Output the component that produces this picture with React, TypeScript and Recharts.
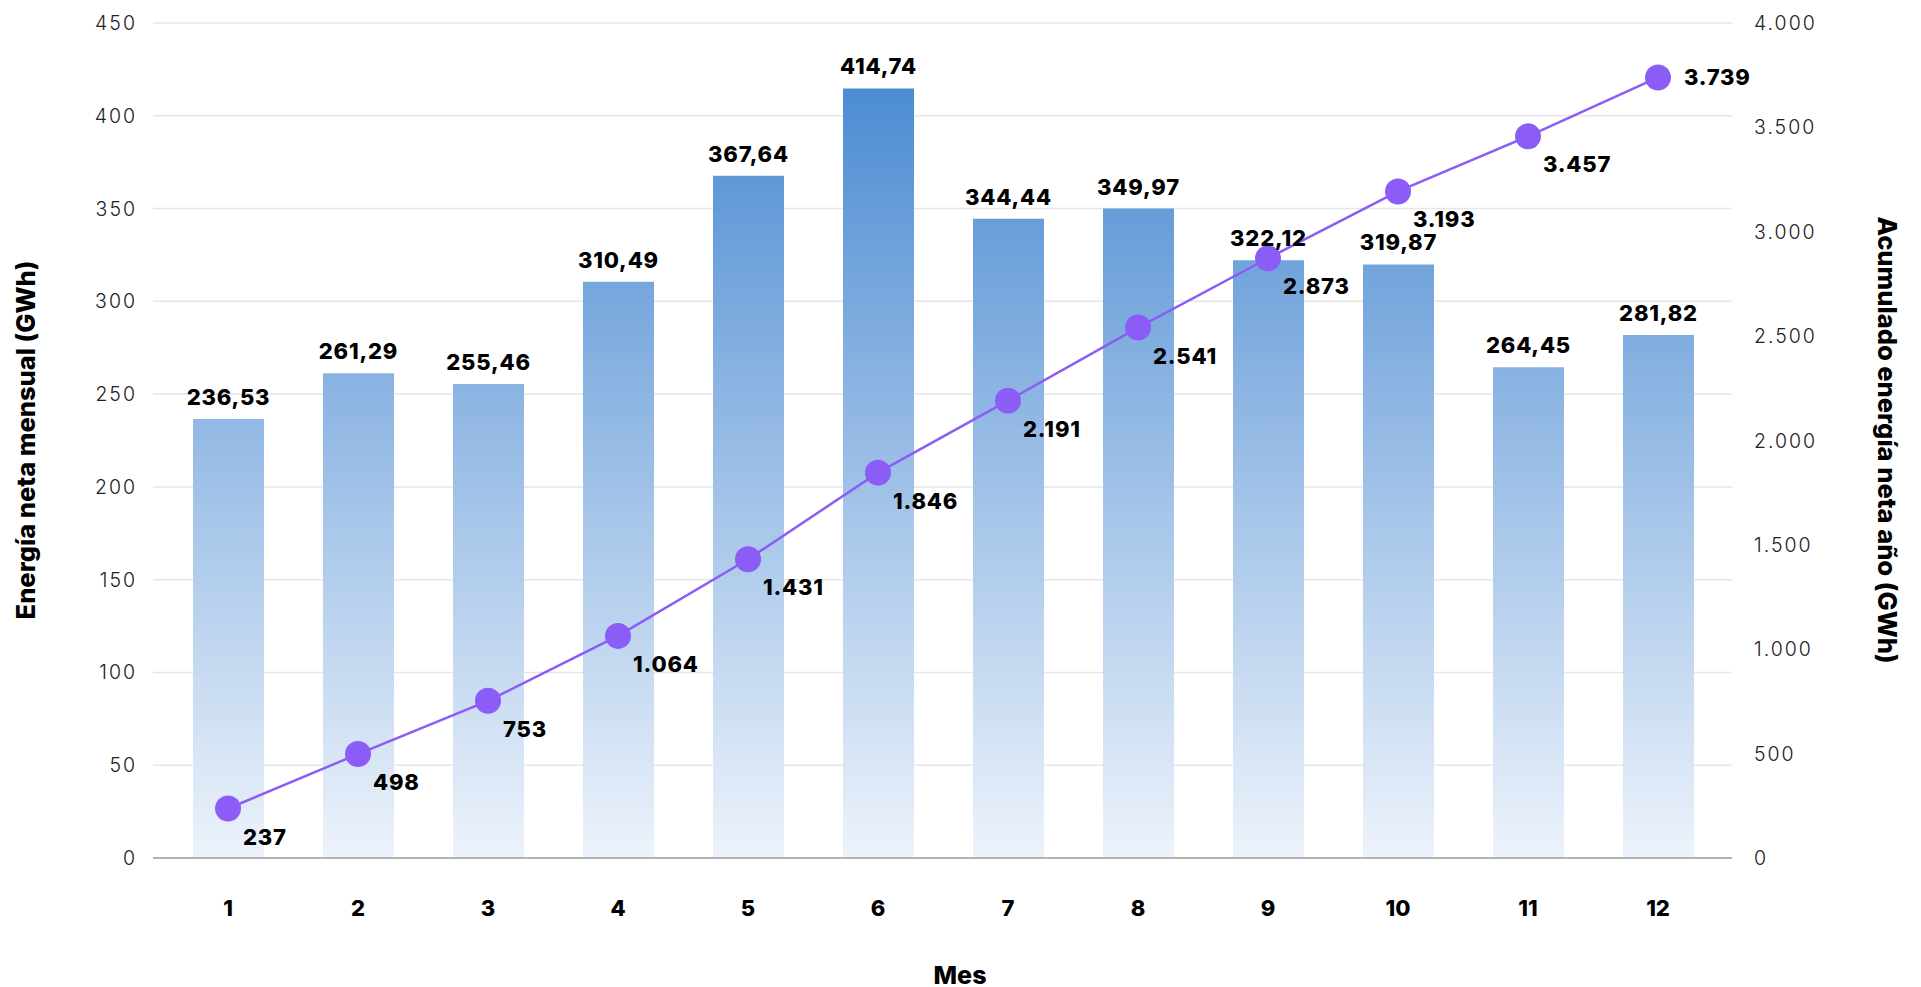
import { Bar, CartesianGrid, ComposedChart, LabelList, Line, XAxis, YAxis } from 'recharts'

const months = ['1', '2', '3', '4', '5', '6', '7', '8', '9', '10', '11', '12']
const monthlyEnergy = [236.53, 261.29, 255.46, 310.49, 367.64, 414.74, 344.44, 349.97, 322.12, 319.87, 264.45, 281.82]
const cumulativeEnergy = [237, 498, 753, 1064, 1431, 1846, 2191, 2541, 2873, 3193, 3457, 3739]
const leftTicks = [0, 50, 100, 150, 200, 250, 300, 350, 400, 450]
const rightTicks = [0, 500, 1000, 1500, 2000, 2500, 3000, 3500, 4000]

const data = months.map((mes, i) => ({
  mes,
  mensual: monthlyEnergy[i],
  acumulado: cumulativeEnergy[i],
}))

const FONT = 'Inter, "Noto Sans", sans-serif'
const PURPLE = '#8b5cf6'

const thousands = (v: number) => String(Math.round(v)).replace(/\B(?=(\d{3})+(?!\d))/g, '.')
const decimal = (v: number) => v.toFixed(2).replace('.', ',')

const tickStyle = { fontFamily: FONT, fontSize: 19.5, fontWeight: 300, fill: '#222', letterSpacing: 2 }

function LeftTick(props: any) {
  const { x, y, payload } = props
  return (
    <text x={x + 2} y={y} textAnchor="end" dominantBaseline="central" style={tickStyle}>
      {payload.value}
    </text>
  )
}

function RightTick(props: any) {
  const { x, y, payload } = props
  return (
    <text x={x} y={y} textAnchor="start" dominantBaseline="central" style={tickStyle}>
      {thousands(payload.value)}
    </text>
  )
}

function LineLabel(props: any) {
  const { x, y, value, index } = props
  const last = index === months.length - 1
  return (
    <text
      x={last ? x + 26 : x + 15}
      y={last ? y : y + 28}
      dominantBaseline="central"
      style={{ fontFamily: FONT, fontSize: 22, fontWeight: 800, fill: '#000', letterSpacing: 0.8 }}
    >
      {thousands(value)}
    </text>
  )
}

export default function App() {
  return (
    <div
      style={{
        position: 'absolute',
        left: 0,
        top: 0,
        width: 1921,
        height: 987,
        background: '#fff',
        fontFamily: FONT,
      }}
    >
      <ComposedChart
        width={1921}
        height={987}
        data={data}
        margin={{ top: 23, right: 0, bottom: 0, left: 0 }}
      >
        <defs>
          <linearGradient id="barFill" gradientUnits="userSpaceOnUse" x1="0" y1="23" x2="0" y2="858">
            <stop offset="0%" stopColor="#3f83cf" />
            <stop offset="100%" stopColor="#edf3fb" />
          </linearGradient>
        </defs>
        <CartesianGrid vertical={false} stroke="#e6e6e6" strokeWidth={1.5} yAxisId="left" />
        <XAxis
          dataKey="mes"
          height={129}
          padding={{ left: 10, right: 9 }}
          stroke="#b3b3b3"
          strokeWidth={2}
          tickLine={false}
          tickSize={0}
          tickMargin={42}
          tick={{ fill: '#000', fontSize: 22, fontWeight: 800, fontFamily: FONT }}
        />
        <YAxis
          yAxisId="left"
          orientation="left"
          width={153}
          domain={[0, 450]}
          ticks={leftTicks}
          axisLine={false}
          tickLine={false}
          tickSize={0}
          tickMargin={18}
          tick={<LeftTick />}
        />
        <YAxis
          yAxisId="right"
          orientation="right"
          width={189}
          domain={[0, 4000]}
          ticks={rightTicks}
          axisLine={false}
          tickLine={false}
          tickSize={0}
          tickMargin={22}
          tick={<RightTick />}
        />
        <Bar yAxisId="left" dataKey="mensual" barSize={71} fill="url(#barFill)" isAnimationActive={false}>
          <LabelList
            dataKey="mensual"
            position="top"
            offset={14}
            formatter={(v: any) => decimal(Number(v))}
            style={{ fill: '#000', fontSize: 22, fontWeight: 800, fontFamily: FONT, letterSpacing: 0.8 }}
          />
        </Bar>
        <Line
          yAxisId="right"
          dataKey="acumulado"
          type="linear"
          stroke={PURPLE}
          strokeWidth={2.5}
          dot={{ r: 13, fill: PURPLE, stroke: PURPLE, strokeWidth: 0 }}
          activeDot={false}
          label={<LineLabel />}
          isAnimationActive={false}
        />
      </ComposedChart>
      <div
        style={{
          position: 'absolute',
          left: 25,
          top: 440,
          transform: 'translate(-50%, -50%) rotate(-90deg)',
          whiteSpace: 'nowrap',
          fontSize: 25.5,
          fontWeight: 800,
          color: '#000',
        }}
      >
        Energía neta mensual (GWh)
      </div>
      <div
        style={{
          position: 'absolute',
          left: 1887,
          top: 440,
          transform: 'translate(-50%, -50%) rotate(90deg)',
          whiteSpace: 'nowrap',
          fontSize: 25.5,
          fontWeight: 800,
          color: '#000',
        }}
      >
        Acumulado energía neta año (GWh)
      </div>
      <div
        style={{
          position: 'absolute',
          left: 960,
          top: 975,
          transform: 'translate(-50%, -50%)',
          whiteSpace: 'nowrap',
          fontSize: 25,
          fontWeight: 800,
          color: '#000',
        }}
      >
        Mes
      </div>
    </div>
  )
}
